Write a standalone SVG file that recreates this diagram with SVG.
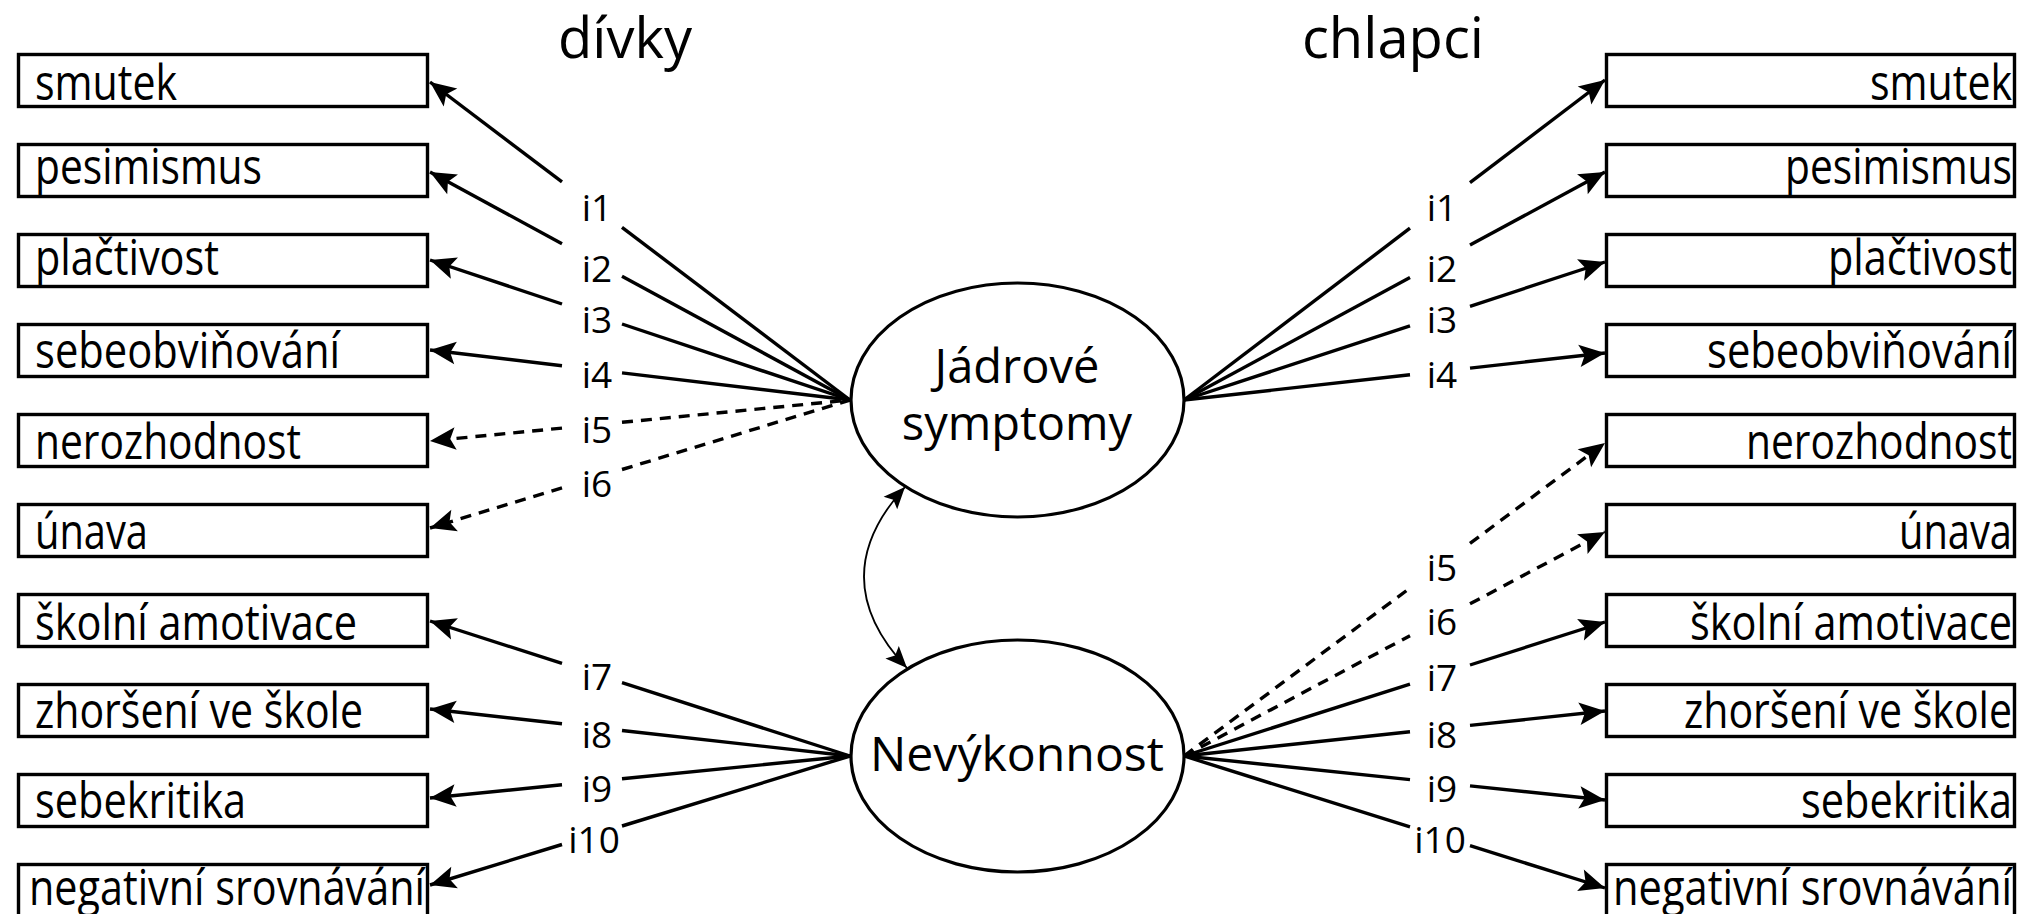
<svg xmlns="http://www.w3.org/2000/svg" width="2032" height="914" viewBox="0 0 2032 914">
<defs>
<style>
.box{fill:#fff;stroke:#000;stroke-width:3.4}
.ell{fill:#fff;stroke:#000;stroke-width:3.2}
.lbl{font-family:"Open Sans","Noto Sans",sans-serif;font-size:50px;fill:#000}
.lr{text-anchor:end}
.ttl{font-family:"Open Sans","Noto Sans",sans-serif;font-size:56px;fill:#000;text-anchor:middle}
.lat{font-family:"Open Sans","Noto Sans",sans-serif;font-size:47px;fill:#000;text-anchor:middle}
.ix{font-family:"Open Sans","Noto Sans",sans-serif;font-size:37px;fill:#000;text-anchor:middle}
.ln{stroke:#000;stroke-width:3.4;fill:none}
.ar{marker-end:url(#ah)}
.d{stroke-dasharray:11 8}
.cov{stroke:#000;stroke-width:1.8;fill:none;marker-start:url(#ahs);marker-end:url(#ahs)}
</style>
<marker id="ah" markerUnits="userSpaceOnUse" markerWidth="30" markerHeight="30" viewBox="-26 -13 28 26" refX="0" refY="0" orient="auto">
<path d="M0,0 L-24,-10.5 L-19,0 L-24,10.5 Z" fill="#000"/>
</marker>
<marker id="ahs" markerUnits="userSpaceOnUse" markerWidth="26" markerHeight="26" viewBox="-22 -11 24 22" refX="0" refY="0" orient="auto-start-reverse">
<path d="M0,0 L-20,-8.5 L-16,0 L-20,8.5 Z" fill="#000"/>
</marker>
</defs>

<text class="ttl" x="625" y="58" textLength="134" lengthAdjust="spacingAndGlyphs">dívky</text>
<text class="ttl" x="1393" y="58" textLength="182" lengthAdjust="spacingAndGlyphs">chlapci</text>

<g id="connectors">
<path class="ln ar" d="M562,181.9 L430,82"/><path class="ln" d="M622,227.4 L850,400"/>
<path class="ln ar" d="M562,243.7 L430,172"/><path class="ln" d="M622,276.2 L850,400"/>
<path class="ln ar" d="M562,304 L430,260"/><path class="ln" d="M622,324 L850,400"/>
<path class="ln ar" d="M562,365.7 L430,350"/><path class="ln" d="M622,372.9 L850,400"/>
<path class="ln ar d" d="M562,428.1 L430,441"/><path class="ln d" d="M622,422.3 L850,400"/>
<path class="ln ar d" d="M562,487.8 L430,528"/><path class="ln d" d="M622,469.5 L850,400"/>
<path class="ln ar" d="M562,663.4 L430,621"/><path class="ln" d="M622,682.7 L850,756"/>
<path class="ln ar" d="M562,723.8 L430,709"/><path class="ln" d="M622,730.5 L850,756"/>
<path class="ln ar" d="M562,784.8 L430,798"/><path class="ln" d="M622,778.8 L850,756"/>
<path class="ln ar" d="M562,844.5 L430,885"/><path class="ln" d="M622,826 L850,756"/>
<path class="ln" d="M1184,400 L1410,228.2"/><path class="ln ar" d="M1470,182.6 L1605,80"/>
<path class="ln" d="M1184,400 L1410,277.6"/><path class="ln ar" d="M1470,245.1 L1605,172"/>
<path class="ln" d="M1184,400 L1410,325.9"/><path class="ln ar" d="M1470,306.3 L1605,262"/>
<path class="ln" d="M1184,400 L1410,374.8"/><path class="ln ar" d="M1470,368.1 L1605,353"/>
<path class="ln d" d="M1184,756 L1410,588"/><path class="ln ar d" d="M1470,543.4 L1605,443"/>
<path class="ln d" d="M1184,756 L1410,635.7"/><path class="ln ar d" d="M1470,603.8 L1605,532"/>
<path class="ln" d="M1184,756 L1410,684.1"/><path class="ln ar" d="M1470,665 L1605,622"/>
<path class="ln" d="M1184,756 L1410,731.8"/><path class="ln ar" d="M1470,725.4 L1605,711"/>
<path class="ln" d="M1184,756 L1410,779.6"/><path class="ln ar" d="M1470,785.9 L1605,800"/>
<path class="ln" d="M1184,756 L1410,826.9"/><path class="ln ar" d="M1470,845.7 L1605,888"/>
<path class="cov" d="M905,487 Q822,578 907,668"/>
<text class="ix" x="597" y="221">i1</text>
<text class="ix" x="597" y="282">i2</text>
<text class="ix" x="597" y="333">i3</text>
<text class="ix" x="597" y="388">i4</text>
<text class="ix" x="597" y="443">i5</text>
<text class="ix" x="597" y="497">i6</text>
<text class="ix" x="597" y="690">i7</text>
<text class="ix" x="597" y="748">i8</text>
<text class="ix" x="597" y="802">i9</text>
<text class="ix" x="594" y="853">i10</text>
<text class="ix" x="1442" y="221">i1</text>
<text class="ix" x="1442" y="282">i2</text>
<text class="ix" x="1442" y="333">i3</text>
<text class="ix" x="1442" y="388">i4</text>
<text class="ix" x="1442" y="581">i5</text>
<text class="ix" x="1442" y="635">i6</text>
<text class="ix" x="1442" y="691">i7</text>
<text class="ix" x="1442" y="748">i8</text>
<text class="ix" x="1442" y="802">i9</text>
<text class="ix" x="1440" y="853">i10</text>
</g>

<g id="jadrove">
<ellipse class="ell" cx="1017.5" cy="400" rx="166.5" ry="117"/>
<text class="lat" x="1017" y="383">Jádrové</text>
<text class="lat" x="1017" y="440">symptomy</text>
</g>
<g id="nevykonnost">
<ellipse class="ell" cx="1017.5" cy="756" rx="166.5" ry="116"/>
<text class="lat" x="1017" y="771" textLength="294" lengthAdjust="spacingAndGlyphs">Nevýkonnost</text>
</g>

<g id="L-smutek"><rect class="box" x="18.5" y="54.5" width="409" height="52"/><text class="lbl" x="35" y="100" textLength="142" lengthAdjust="spacingAndGlyphs">smutek</text></g>
<g id="L-pesimismus"><rect class="box" x="18.5" y="144.5" width="409" height="52"/><text class="lbl" x="35" y="184" textLength="227" lengthAdjust="spacingAndGlyphs">pesimismus</text></g>
<g id="L-plactivost"><rect class="box" x="18.5" y="234.5" width="409" height="52"/><text class="lbl" x="35" y="275" textLength="184" lengthAdjust="spacingAndGlyphs">plačtivost</text></g>
<g id="L-sebeobvinovani"><rect class="box" x="18.5" y="324.5" width="409" height="52"/><text class="lbl" x="35" y="368" textLength="305" lengthAdjust="spacingAndGlyphs">sebeobviňování</text></g>
<g id="L-nerozhodnost"><rect class="box" x="18.5" y="414.5" width="409" height="52"/><text class="lbl" x="35" y="459" textLength="266" lengthAdjust="spacingAndGlyphs">nerozhodnost</text></g>
<g id="L-unava"><rect class="box" x="18.5" y="504.5" width="409" height="52"/><text class="lbl" x="35" y="549" textLength="113" lengthAdjust="spacingAndGlyphs">únava</text></g>
<g id="L-skolni"><rect class="box" x="18.5" y="594.5" width="409" height="52"/><text class="lbl" x="35" y="640" textLength="322" lengthAdjust="spacingAndGlyphs">školní amotivace</text></g>
<g id="L-zhorseni"><rect class="box" x="18.5" y="684.5" width="409" height="52"/><text class="lbl" x="35" y="728" textLength="328" lengthAdjust="spacingAndGlyphs">zhoršení ve škole</text></g>
<g id="L-sebekritika"><rect class="box" x="18.5" y="774.5" width="409" height="52"/><text class="lbl" x="35" y="818" textLength="211" lengthAdjust="spacingAndGlyphs">sebekritika</text></g>
<g id="L-negativni"><rect class="box" x="18.5" y="864.5" width="409" height="52"/><text class="lbl" x="29" y="905" textLength="396" lengthAdjust="spacingAndGlyphs">negativní srovnávání</text></g>

<g id="R-smutek"><rect class="box" x="1606.5" y="54.5" width="408" height="52"/><text class="lbl lr" x="2012" y="100" textLength="142" lengthAdjust="spacingAndGlyphs">smutek</text></g>
<g id="R-pesimismus"><rect class="box" x="1606.5" y="144.5" width="408" height="52"/><text class="lbl lr" x="2012" y="184" textLength="227" lengthAdjust="spacingAndGlyphs">pesimismus</text></g>
<g id="R-plactivost"><rect class="box" x="1606.5" y="234.5" width="408" height="52"/><text class="lbl lr" x="2012" y="275" textLength="184" lengthAdjust="spacingAndGlyphs">plačtivost</text></g>
<g id="R-sebeobvinovani"><rect class="box" x="1606.5" y="324.5" width="408" height="52"/><text class="lbl lr" x="2012" y="368" textLength="305" lengthAdjust="spacingAndGlyphs">sebeobviňování</text></g>
<g id="R-nerozhodnost"><rect class="box" x="1606.5" y="414.5" width="408" height="52"/><text class="lbl lr" x="2012" y="459" textLength="266" lengthAdjust="spacingAndGlyphs">nerozhodnost</text></g>
<g id="R-unava"><rect class="box" x="1606.5" y="504.5" width="408" height="52"/><text class="lbl lr" x="2012" y="549" textLength="113" lengthAdjust="spacingAndGlyphs">únava</text></g>
<g id="R-skolni"><rect class="box" x="1606.5" y="594.5" width="408" height="52"/><text class="lbl lr" x="2012" y="640" textLength="322" lengthAdjust="spacingAndGlyphs">školní amotivace</text></g>
<g id="R-zhorseni"><rect class="box" x="1606.5" y="684.5" width="408" height="52"/><text class="lbl lr" x="2012" y="728" textLength="328" lengthAdjust="spacingAndGlyphs">zhoršení ve škole</text></g>
<g id="R-sebekritika"><rect class="box" x="1606.5" y="774.5" width="408" height="52"/><text class="lbl lr" x="2012" y="818" textLength="211" lengthAdjust="spacingAndGlyphs">sebekritika</text></g>
<g id="R-negativni"><rect class="box" x="1606.5" y="864.5" width="408" height="52"/><text class="lbl lr" x="2012" y="905" textLength="399" lengthAdjust="spacingAndGlyphs">negativní srovnávání</text></g>
</svg>
